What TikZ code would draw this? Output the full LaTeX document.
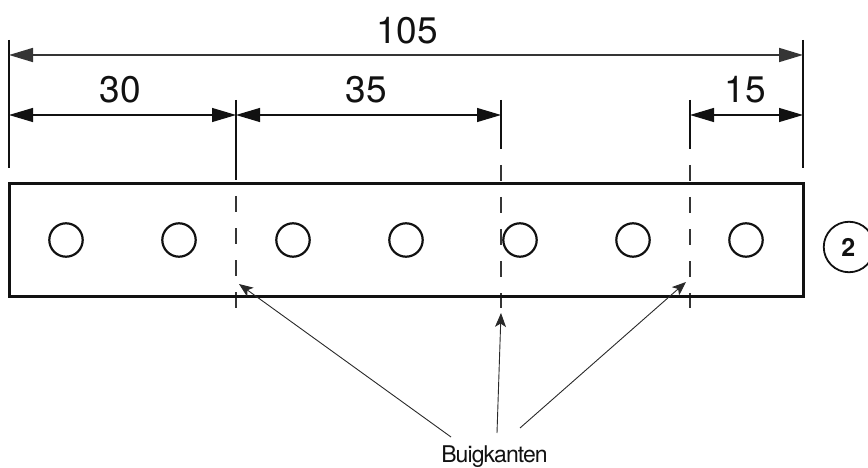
\documentclass[tikz,border=0pt]{standalone}
\usepackage{fontspec}
\setmainfont{TeX Gyre Heros}
\usetikzlibrary{arrows.meta}
\definecolor{ink}{HTML}{111111}
\tikzset{
  x=1pt,y=-1pt,
  plate/.style={draw=ink,line width=2.9pt,outer sep=0pt},
  hole/.style={circle,draw=ink,line width=2.2pt,minimum size=33.4pt,inner sep=0pt,outer sep=0pt},
  ext/.style={draw=ink,line width=1.3pt},
  bendline/.style={draw=ink!85,line width=1.3pt,dash pattern=on 16pt off 16pt},
  dim/.style={draw=ink,line width=1.2pt,{Triangle[length=24pt,width=14pt]}-{Triangle[length=24pt,width=14pt]}},
  dimtop/.style={dim,line width=1.7pt,draw=ink!85},
  leader/.style={draw=ink!90,line width=0.9pt,-{Stealth[length=14pt,width=11pt,inset=3.5pt]}},
  num/.style={font=\fontsize{37}{37}\selectfont,inner sep=0pt,text=ink},
  lab/.style={font=\fontsize{23}{23}\selectfont\addfontfeatures{LetterSpace=-4},inner sep=0pt,text=ink,anchor=base}
}
\begin{document}
\begin{tikzpicture}
\useasboundingbox (0,0) rectangle (868,468);
% extension lines
\coordinate (L0) at (9,40);   \coordinate (L1) at (9,168);
\coordinate (R0) at (803,40); \coordinate (R1) at (803,168);
\coordinate (A0) at (236,100); \coordinate (A1) at (236,180);
\coordinate (A2) at (236,196); \coordinate (A3) at (236,308);
\coordinate (B0) at (501,100); \coordinate (B1) at (501,149);
\coordinate (B2) at (501,165); \coordinate (B3) at (501,308);
\coordinate (C0) at (690,100); \coordinate (C1) at (690,149);
\coordinate (C2) at (690,165); \coordinate (C3) at (690,308);
\draw[ext] (L0) -- (L1);
\draw[ext] (R0) -- (R1);
\draw[ext] (A0) -- (A1);
\draw[ext] (B0) -- (B1);
\draw[ext] (C0) -- (C1);
\draw[bendline] (A2) -- (A3);
\draw[bendline] (B2) -- (B3);
\draw[bendline] (C2) -- (C3);
% plate
\node[plate,minimum width=794.2pt,minimum height=113.5pt,inner sep=0pt,anchor=north west] (plate) at (9.1,183.2) {};
% holes
\node[hole] (h1) at (66,240) {};
\node[hole] (h2) at (179,240) {};
\node[hole] (h3) at (293,240) {};
\node[hole] (h4) at (406,240) {};
\node[hole] (h5) at (520,240) {};
\node[hole] (h6) at (633,240) {};
\node[hole] (h7) at (746,240) {};
% dimension lines
\coordinate (d1) at (9,55);   \coordinate (d2) at (803,55);
\coordinate (e1) at (9,115);  \coordinate (e2) at (236,115);
\coordinate (e3) at (501,115);\coordinate (e4) at (690,115);
\coordinate (e5) at (803,115);
\draw[dimtop] (d1) -- (d2);
\draw[dim] (e1) -- (e2);
\draw[dim] (e2) -- (e3);
\draw[dim] (e4) -- (e5);
\node[num] (n105) at (407,31) {105};
\node[num] (n30) at (120,90) {30};
\node[num] (n35) at (366,90) {35};
\node[num] (n15) at (745,90) {15};
% label and leaders
\node[lab] (buig) at (494.5,462) {Buigkanten};
\coordinate (t1) at (239,284); \coordinate (f1) at (451,437);
\coordinate (t2) at (501,313); \coordinate (f2) at (497,433);
\coordinate (t3) at (686,282); \coordinate (f3) at (520,428);
\draw[leader] (f1) -- (t1);
\draw[leader] (f2) -- (t2);
\draw[leader] (f3) -- (t3);
% callout
\node[circle,draw=ink,line width=1.8pt,minimum size=50.5pt,inner sep=0pt,outer sep=0pt,font=\fontsize{25}{25}\selectfont\bfseries,text=ink] (c2) at (849,247) {\kern-1.5pt 2};
\end{tikzpicture}
\end{document}
